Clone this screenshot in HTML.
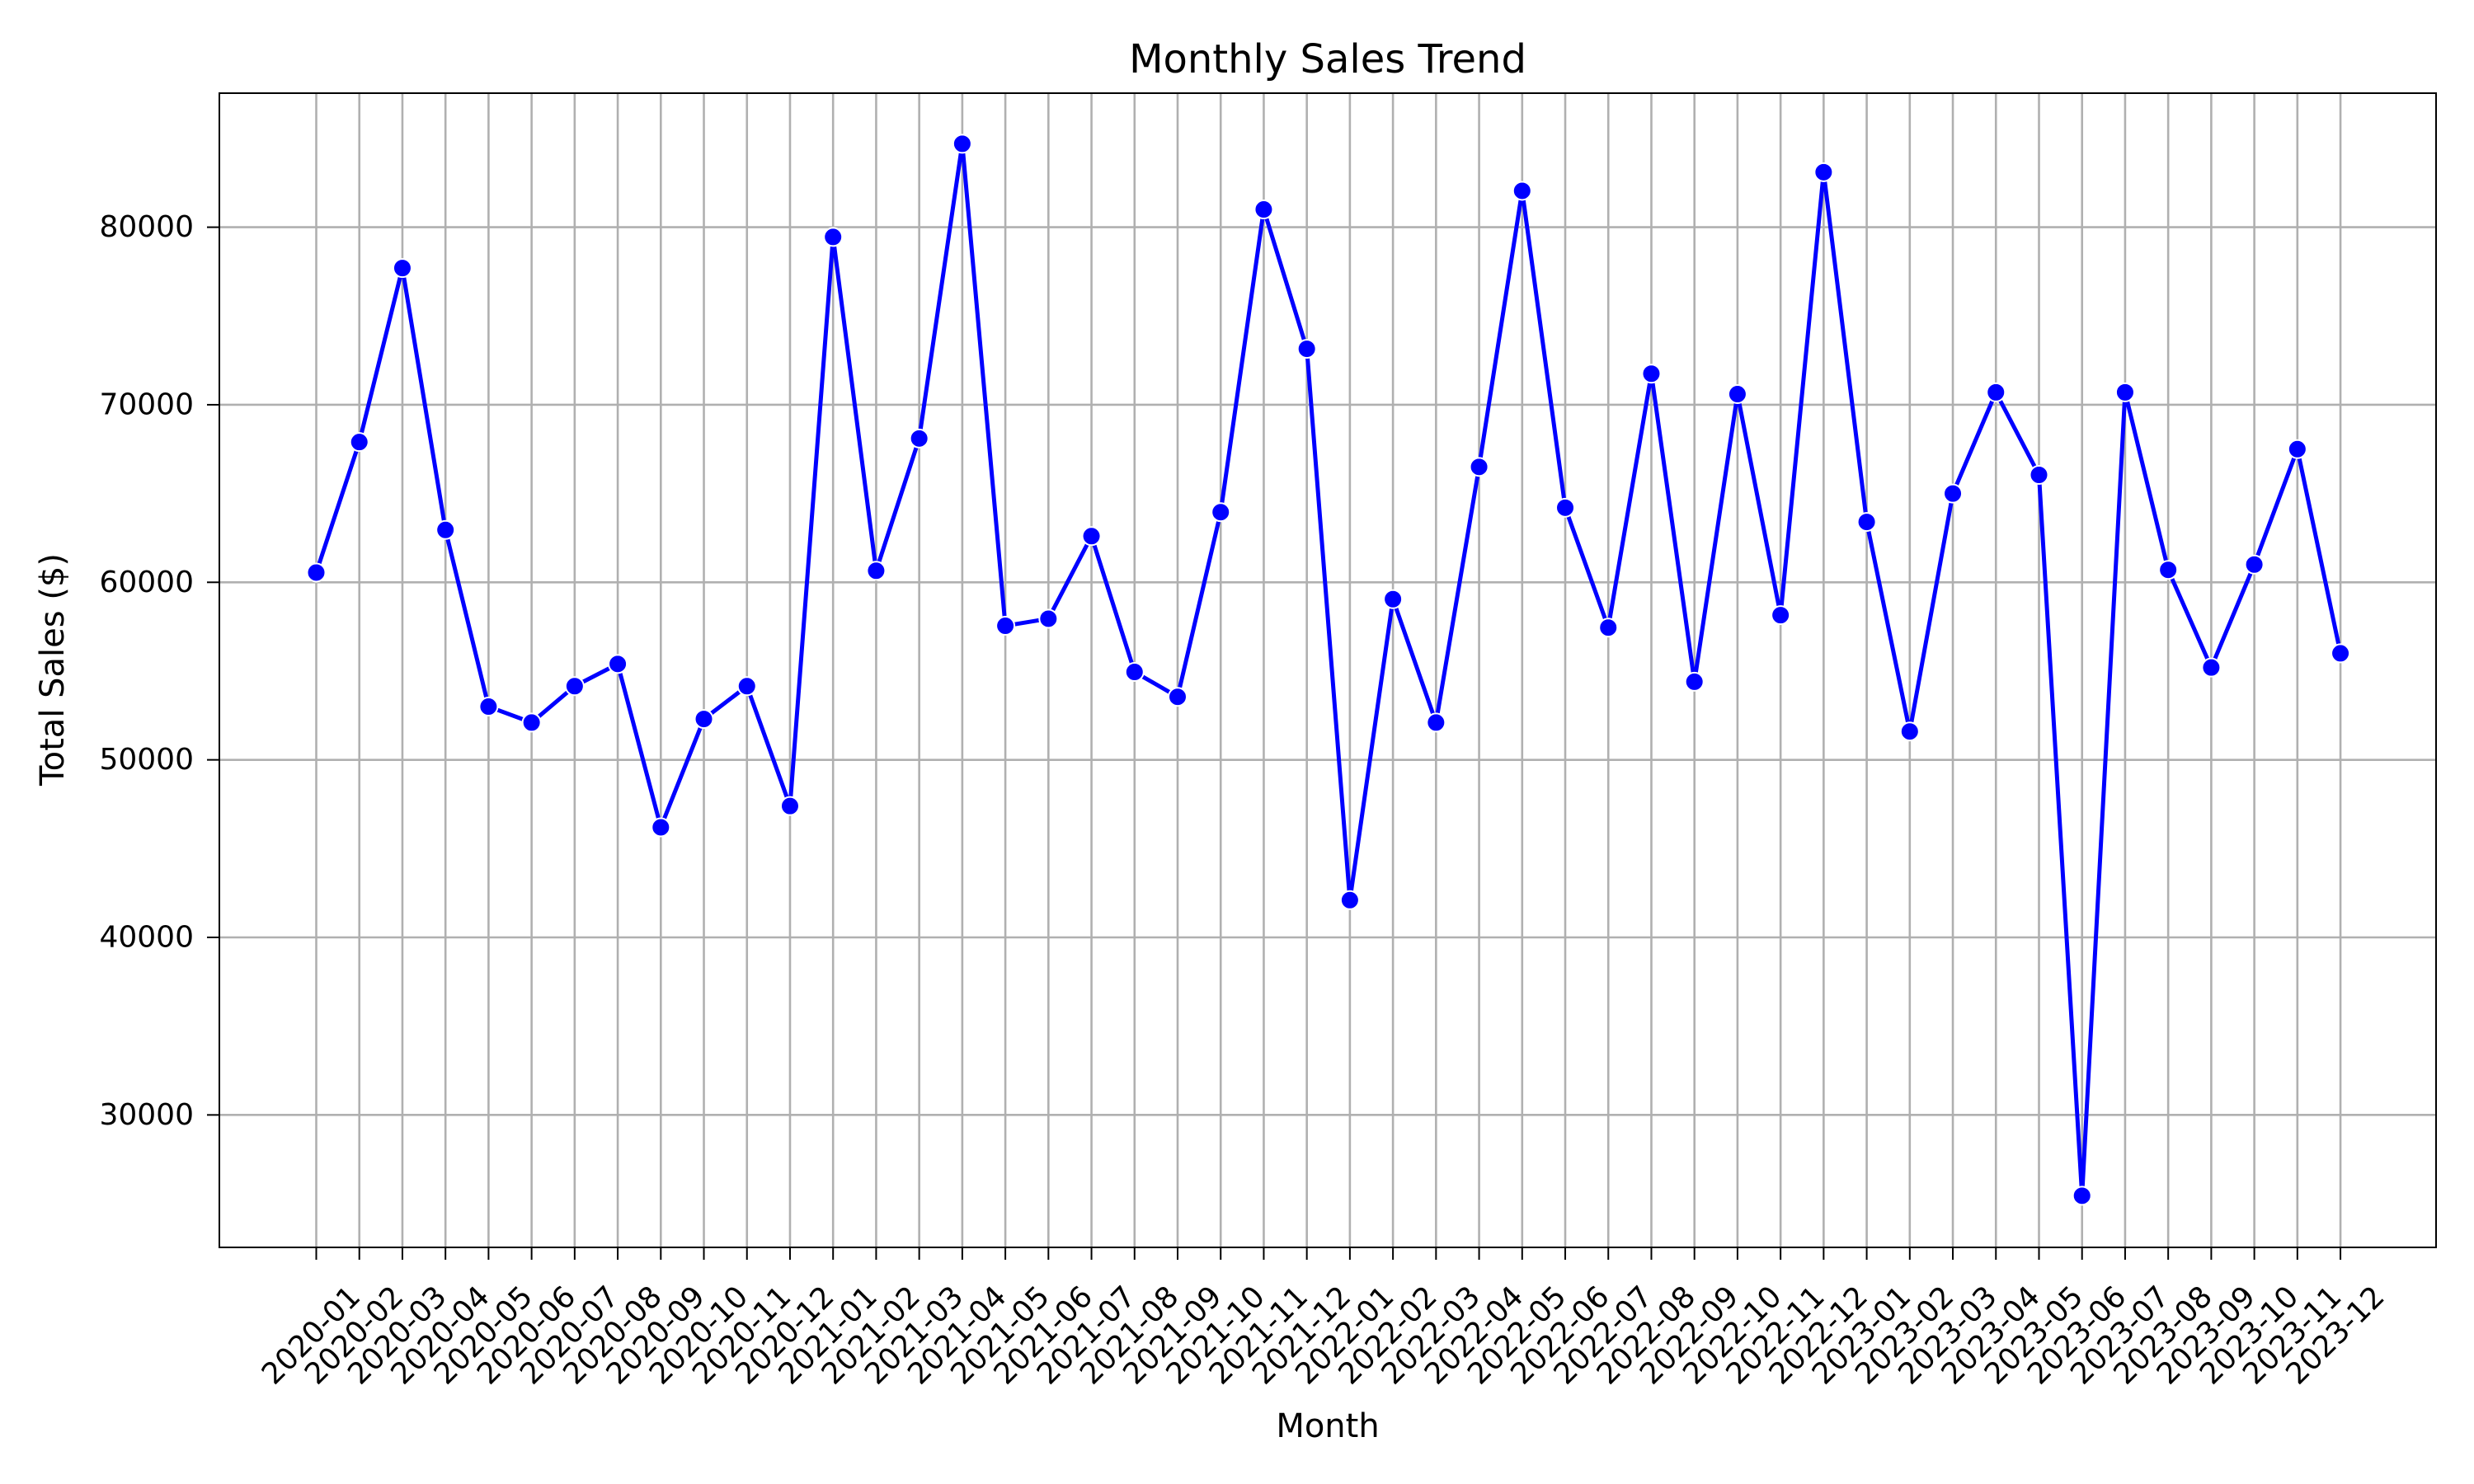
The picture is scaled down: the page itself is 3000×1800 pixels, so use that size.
<!DOCTYPE html>
<html><head><meta charset="utf-8"><style>html,body{margin:0;padding:0;background:#fff}svg{display:block}text{font-family:"DejaVu Sans","Liberation Sans",sans-serif;fill:#000}</style></head>
<body>
<svg id="chart" width="3000" height="1800" viewBox="0 0 3000 1800" xmlns="http://www.w3.org/2000/svg">
<rect width="3000" height="1800" fill="#fff"/>
<g id="grid"></g>
<g id="series"></g>
<g id="ticks"></g>
<rect x="266" y="113" width="2688" height="1400" fill="none" stroke="#000" stroke-width="2"/>
<text x="1610" y="88" font-size="48" text-anchor="middle">Monthly Sales Trend</text>
<text x="1610" y="1743" font-size="40" text-anchor="middle">Month</text>
<text transform="translate(77,812) rotate(-90)" font-size="40" text-anchor="middle">Total Sales ($)</text>
</svg>
<script>
const categories = ["2020-01","2020-02","2020-03","2020-04","2020-05","2020-06","2020-07","2020-08","2020-09","2020-10","2020-11","2020-12","2021-01","2021-02","2021-03","2021-04","2021-05","2021-06","2021-07","2021-08","2021-09","2021-10","2021-11","2021-12","2022-01","2022-02","2022-03","2022-04","2022-05","2022-06","2022-07","2022-08","2022-09","2022-10","2022-11","2022-12","2023-01","2023-02","2023-03","2023-04","2023-05","2023-06","2023-07","2023-08","2023-09","2023-10","2023-11","2023-12"];
const sales = [60550,67900,77700,62950,53000,52100,54150,55400,46200,52300,54150,47400,79450,60650,68100,84700,57550,57950,62600,54950,53550,63950,81000,73150,42100,59050,52100,66500,82050,64200,57450,71750,54400,70600,58150,83100,63400,51600,65000,70700,66050,25450,70700,60700,55200,61000,67500,56000];
const yTicks = [30000,40000,50000,60000,70000,80000];

const NS="http://www.w3.org/2000/svg";
const L=266,R=2954,T=113,B=1513;
const xMin=-2.25,xMax=49.22,yMin=22540,yMax=87550;
const xS=i=>L+(i-xMin)/(xMax-xMin)*(R-L);
const yS=v=>B-(v-yMin)/(yMax-yMin)*(B-T);
function mk(tag,attrs,parent){const e=document.createElementNS(NS,tag);for(const k in attrs)e.setAttribute(k,attrs[k]);parent.appendChild(e);return e;}
const grid=document.getElementById('grid'),ticks=document.getElementById('ticks'),series=document.getElementById('series');
categories.forEach((c,i)=>{
  const x=xS(i);
  const g=mk('line',{x1:x,x2:x,y1:T,y2:B,stroke:'#b0b0b0','stroke-width':2.6},grid);
  
  
  const t=mk('line',{x1:x,x2:x,y1:B,y2:B+15,stroke:'#000','stroke-width':2},ticks);
  
  
  const lb=mk('text',{transform:`translate(${x-6},1620) rotate(-45)`,'font-size':36,'text-anchor':'middle','dominant-baseline':'central'},ticks);
  lb.textContent=c;
  
  
});
yTicks.forEach(v=>{
  const y=yS(v);
  const g=mk('line',{x1:L,x2:R,y1:y,y2:y,stroke:'#b0b0b0','stroke-width':2.6},grid);
  
  
  const t=mk('line',{x1:L-15,x2:L,y1:y,y2:y,stroke:'#000','stroke-width':2},ticks);
  
  
  const lb=mk('text',{x:L-31,y:y,'font-size':36,'text-anchor':'end','dominant-baseline':'central'},ticks);
  lb.textContent=v;
  
  
});
const pts=sales.map((v,i)=>xS(i)+','+yS(v)).join(' ');
const line=mk('polyline',{points:pts,fill:'none',stroke:'#0000ff','stroke-width':5,'stroke-linejoin':'round'},series);


sales.forEach((v,i)=>{
  const c=mk('circle',{cx:xS(i),cy:yS(v),r:11,fill:'#0000ff',stroke:'#fff','stroke-width':2},series);
  
  
});
</script>
</body></html>
